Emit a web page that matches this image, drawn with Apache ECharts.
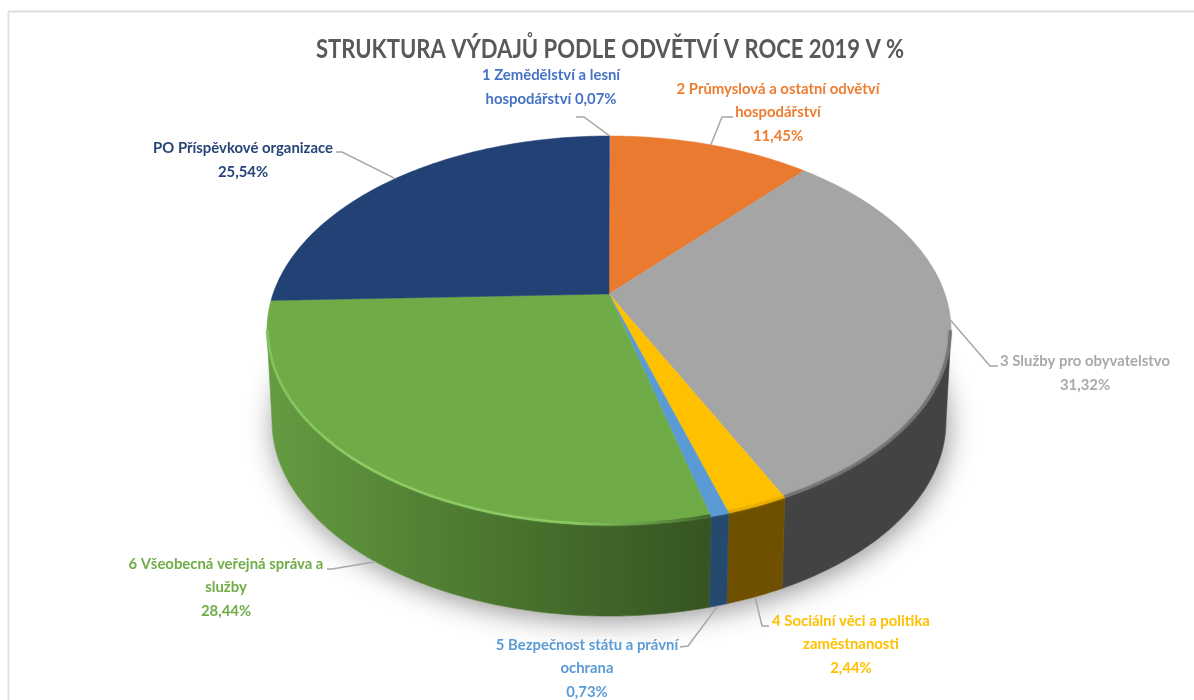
<!DOCTYPE html>
<html>
<head>
<meta charset="utf-8">
<title>Struktura výdajů</title>
<script src="https://cdn.jsdelivr.net/npm/echarts@6/dist/echarts.min.js"></script>
<style>
  html, body { margin: 0; padding: 0; background: #fff; }
  #chart { width: 1194px; height: 700px; }
</style>
</head>
<body>
<div id="chart"></div>
<script>
  // data
  const chartTitle = 'STRUKTURA VÝDAJŮ PODLE ODVĚTVÍ V ROCE 2019 V %'
  const categories = [
    '1 Zemědělství a lesní\nhospodářství ',
    '2 Průmyslová a ostatní odvětví\nhospodářství\n',
    '3 Služby pro obyvatelstvo\n',
    '4 Sociální věci a politika\nzaměstnanosti\n',
    '5 Bezpečnost státu a právní\nochrana\n',
    '6 Všeobecná veřejná správa a\nslužby\n',
    'PO Příspěvkové organizace\n'
  ]
  const shares = [0.07, 11.45, 31.32, 2.44, 0.73, 28.44, 25.54]

  // styles
  const topColors = ['#4472c4', '#e97a2f', '#a5a5a5', '#ffc000', '#5b9bd5', '#6fac48', '#224174']
  const labelColors = ['#4472c4', '#ed7d31', '#a9a9a9', '#ffc000', '#5b9bd5', '#70ad47', '#264478']
  const rimColors = ['#4472c4', '#ed7d31', '#747474', '#e8ae00', '#5b9bd5', '#6fac48', '#224174']
  const wallColors = [null, null, '#434343', '#6e5000', '#264a6e', null, null]

  // label layout: text centre, leader elbow, leader end, anchor on the lower rim or not
  const labelBoxes = [
    { x: 551, y: 87, elbow: [584, 117], end: [576, 117], lower: false },
    { x: 778, y: 112, elbow: [722, 117], end: [733, 117], lower: false },
    { x: 1085, y: 373, elbow: [990, 366], end: [998, 366], lower: false },
    { x: 851, y: 644, elbow: [762, 626], end: [769, 626], lower: true },
    { x: 587, y: 668, elbow: [688, 646], end: [680, 647], lower: true },
    { x: 226, y: 587, elbow: [332, 569], end: [327, 569], lower: true },
    { x: 243, y: 160, elbow: [342, 152], end: [336, 152], lower: false }
  ]

  // perspective disc: apex at (cx, apexY), circle radius mapped through 1 + tilt * v
  const cx = 609
  const apexY = 294
  const spreadY = 132.5
  const spreadX = 336
  const tilt = -0.1877
  const depth = 91
  const lowerScale = 0.985
  // wall is only seen where v is past this value
  const facingV = -tilt

  const total = shares.reduce((a, b) => a + b, 0)
  const startAngles = []
  shares.reduce((acc, v, i) => {
    startAngles[i] = acc
    return acc + v / total * 360
  }, 0)

  function project(theta, radius, lower) {
    const rad = theta * Math.PI / 180
    const u = Math.sin(rad) * radius
    const v = -Math.cos(rad) * radius
    const denom = 1 + tilt * v
    const scale = lower ? lowerScale : 1
    return [
      cx + spreadX * scale * u / denom,
      (spreadY * v + apexY) / denom + (lower ? depth : 0)
    ]
  }

  function arc(from, to, radius, lower) {
    const pts = []
    const steps = Math.max(2, Math.ceil(Math.abs(to - from)))
    for (let i = 0; i <= steps; i++) {
      pts.push(project(from + (to - from) * i / steps, radius, lower))
    }
    return pts
  }

  function facingRange(i) {
    const limit = Math.acos(facingV) * 180 / Math.PI
    const from = Math.max(startAngles[i], 180 - limit)
    const to = Math.min(startAngles[i] + shares[i] / total * 360, 180 + limit)
    return to > from ? [from, to] : null
  }

  function wallFill(i) {
    if (i === 5) {
      return new echarts.graphic.LinearGradient(265, 0, 712, 0, [
        { offset: 0, color: '#659c42' },
        { offset: 0.3, color: '#568536' },
        { offset: 0.6, color: '#47702c' },
        { offset: 1, color: '#365422' }
      ], true)
    }
    return wallColors[i]
  }

  function rimStroke(i) {
    if (i === 5) {
      // highlight on the green edge dies out towards the right
      return new echarts.graphic.LinearGradient(265, 0, 712, 0, [
        { offset: 0, color: '#84c25c' },
        { offset: 0.2, color: '#8ecb66' },
        { offset: 0.7, color: '#8ac862' },
        { offset: 0.9, color: '#5a8a3e' },
        { offset: 1, color: '#3f6328' }
      ], true)
    }
    return rimColors[i]
  }

  const chart = echarts.init(document.getElementById('chart'))

  chart.setOption({
    animation: false,
    graphic: [
      { type: 'line', shape: { x1: 8, y1: 11.5, x2: 1194, y2: 11.5 }, style: { stroke: '#dddddd', lineWidth: 2 } },
      { type: 'line', shape: { x1: 8.5, y1: 11, x2: 8.5, y2: 700 }, style: { stroke: '#e2e2e2', lineWidth: 2 } },
      {
        type: 'text',
        x: 610,
        y: 49,
        scaleX: 0.82,
        style: {
          text: chartTitle,
          align: 'center',
          verticalAlign: 'middle',
          fontFamily: 'Lato',
          fontWeight: 'bold',
          fontSize: 26.9,
          fill: '#595959'
        }
      }
    ],
    series: [
      {
        // soft shadow under the disc
        type: 'custom',
        name: 'shadow',
        coordinateSystem: 'none',
        silent: true,
        z: 1,
        data: [0],
        renderItem: () => ({
          type: 'polygon',
          shape: { points: arc(0, 360, 1, true) },
          style: {
            fill: '#ffffff',
            shadowBlur: 28,
            shadowColor: 'rgba(0,0,0,0.42)',
            shadowOffsetY: 5,
            shadowOffsetX: 2
          }
        })
      },
      {
        type: 'custom',
        name: 'walls',
        coordinateSystem: 'none',
        silent: true,
        z: 2,
        data: shares,
        renderItem: (params) => {
          const i = params.dataIndex
          const range = facingRange(i)
          if (!range) return null
          const points = arc(range[0], range[1], 1, false).concat(arc(range[1], range[0], 1, true))
          const fill = wallFill(i)
          return {
            type: 'polygon',
            shape: { points },
            style: { fill, stroke: fill, lineWidth: 0.6 }
          }
        }
      },
      {
        type: 'custom',
        name: 'tops',
        coordinateSystem: 'none',
        silent: true,
        z: 3,
        data: shares,
        renderItem: (params, api) => {
          const i = params.dataIndex
          const from = startAngles[i]
          const points = [[cx, apexY]].concat(arc(from, from + api.value(0) / total * 360, 1, false))
          return {
            type: 'polygon',
            shape: { points },
            style: { fill: topColors[i], stroke: topColors[i], lineWidth: 0.5 }
          }
        }
      },
      {
        type: 'custom',
        name: 'rims',
        coordinateSystem: 'none',
        silent: true,
        z: 4,
        data: shares,
        renderItem: (params) => {
          const i = params.dataIndex
          const range = facingRange(i)
          if (!range) return null
          return {
            type: 'polyline',
            shape: { points: arc(range[0], range[1], 0.997, false) },
            style: {
              stroke: rimStroke(i),
              lineWidth: 2.5,
              fill: null,
              shadowBlur: 2,
              shadowColor: i === 5 ? 'rgba(110,170,70,0.8)' : rimColors[i]
            }
          }
        }
      },
      {
        type: 'custom',
        name: 'labels',
        coordinateSystem: 'none',
        silent: true,
        z: 5,
        data: shares,
        renderItem: (params, api) => {
          const i = params.dataIndex
          const box = labelBoxes[i]
          const mid = startAngles[i] + api.value(0) / total * 180
          const anchor = project(mid, 1, box.lower)
          const text = categories[i] + api.value(0).toFixed(2).replace('.', ',') + '%'
          return {
            type: 'group',
            children: [
              {
                type: 'polyline',
                shape: { points: [anchor, box.elbow, box.end] },
                style: { stroke: '#a6a6a6', lineWidth: 1.5, fill: null }
              },
              {
                type: 'text',
                x: box.x,
                y: box.y,
                scaleX: 0.93,
                style: {
                  text,
                  align: 'center',
                  verticalAlign: 'middle',
                  fontFamily: 'Lato',
                  fontWeight: 'bold',
                  fontSize: 16,
                  lineHeight: 23.5,
                  fill: labelColors[i]
                }
              }
            ]
          }
        }
      }
    ]
  })

  window.addEventListener('resize', () => chart.resize())
</script>
</body>
</html>
